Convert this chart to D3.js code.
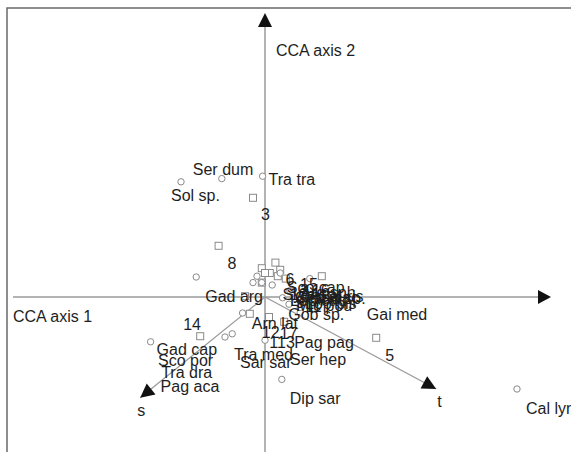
<!DOCTYPE html>
<html>
<head>
<meta charset="utf-8">
<script src="https://cdn.jsdelivr.net/npm/d3@7"></script>
<style>
body { margin: 0; background: #fff; }
text { font-family: "Liberation Sans", Arial, sans-serif; font-size: 16px; fill: #1e1e1e; }
</style>
</head>
<body>
<div id="chart-area"></div>
<script>
// species scores (CCA axis 1, axis 2)
var speciesNames = ["Sol sp.", "Ser dum", "Tra tra", "Cal lyr", "Dip sar", "Gad cap", "Sco por", "Tra dra", "Pag aca",
  "Tra med", "Gad arg", "Sar sar", "Ser hep", "Pag pag", "Gai med", "Cal ris", "Gob sp.", "Arn lat",
  "Sco cap", "Sym sp.", "Lep cau", "Mic pou", "Arg sph", "Cep mac", "Lop pis", "Gad sp."];
var speciesX = [-1.05, -0.54, -0.03, 3.15, 0.21, -1.43, -0.50, -0.41, -0.28,
  0.00, -0.86, -0.10, -0.15, 0.44, 0.56, 0.09, 0.19, -0.04,
  0.31, 0.22, 0.30, 0.44, 0.38, 0.50, 0.55, 0.62];
var speciesY = [1.44, 1.48, 1.51, -1.15, -1.03, -0.56, -0.50, -0.46, -0.20,
  -0.54, 0.25, 0.26, 0.18, -0.19, 0.23, 0.15, 0.30, 0.18,
  0.08, -0.01, -0.09, -0.13, -0.02, -0.06, -0.12, -0.05];

// sample scores
var sampleIds = ["1", "2", "3", "4", "5", "6", "7", "8", "9", "10", "11", "12", "13", "14", "15", "16", "17"];
var sampleX = [0.24, 0.19, -0.15, 0.06, 1.39, 0.13, 0.71, -0.58, 0.16, -0.04, -0.25, -0.19, 0.05, -0.81, 0.00, 0.26, -0.04];
var sampleY = [-0.31, 0.34, 1.24, 0.30, -0.51, 0.43, 0.26, 0.64, 0.26, 0.36, 0.01, -0.21, -0.25, -0.49, 0.30, 0.23, 0.18];

// environmental variables
var envNames = ["s", "t"];
var envX = [-1.56, 2.14];
var envY = [-1.26, -1.15];

// label placement (pixels from the symbol)
var speciesLabelShift = [[-10, 19], [-29, -4], [6, 9], [9, 25], [8, 25], [6, 13], [-67, 29], [-71, 44], [-82, 79],
  [-31, 20], [9, 25], [-17, 92], [37, 82], [-6, 36], [57, 41], [46, 17], [8, 47], [-10, 46],
  [-3, 2], [0, 2], [1, 2], [-4, 4], [5, -1], [-10, 1], [-4, 2], [-5, 3]];
var sampleLabelShift = [[-15, 26], [20, 26], [8, 22], [40, 27], [9, 23], [10, 22], [-4, 30], [9, 23], [18, 32],
  [28, 32], [60, 16], [12, 24], [8, 31], [-17, -6], [35, 17], [26, 17], [18, 56]];
var envLabelShift = [[-3, 18], [1, 18]];

var width = 571, height = 452;

var svg = d3.select("#chart-area").append("svg")
  .attr("width", width)
  .attr("height", height);

var x = d3.scaleLinear().domain([0, 1]).range([265, 345]);
var y = d3.scaleLinear().domain([0, 1]).range([297, 217]);

// frame (clipped at right and bottom)
svg.append("path")
  .attr("d", "M7,452V8H571")
  .attr("fill", "none")
  .attr("stroke", "#6a6a6a")
  .attr("stroke-width", 1.5);

var axisColor = "#9a9a9a";

// CCA axes
svg.append("line")
  .attr("x1", 13).attr("y1", y(0))
  .attr("x2", 540).attr("y2", y(0))
  .attr("stroke", axisColor).attr("stroke-width", 1.5);
svg.append("line")
  .attr("x1", x(0)).attr("y1", height)
  .attr("x2", x(0)).attr("y2", 25)
  .attr("stroke", axisColor).attr("stroke-width", 1.5);

function head(tx, ty, ang, len, half) {
  var bx = tx - len * Math.cos(ang), by = ty - len * Math.sin(ang);
  var px = -Math.sin(ang) * half, py = Math.cos(ang) * half;
  return "M" + tx + "," + ty + "L" + (bx + px) + "," + (by + py) + "L" + (bx - px) + "," + (by - py) + "Z";
}

svg.append("path").attr("d", head(551, y(0), 0, 13, 7)).attr("fill", "#111");
svg.append("path").attr("d", head(x(0), 13, -Math.PI / 2, 14, 7)).attr("fill", "#111");

svg.append("text").attr("x", 13).attr("y", 322).text("CCA axis  1");
svg.append("text").attr("x", 276).attr("y", 56).text("CCA axis  2");

// environmental arrows
envNames.forEach(function(n, i) {
  var tx = x(envX[i]), ty = y(envY[i]);
  var ang = Math.atan2(ty - y(0), tx - x(0));
  svg.append("line")
    .attr("x1", x(0)).attr("y1", y(0))
    .attr("x2", tx).attr("y2", ty)
    .attr("stroke", axisColor).attr("stroke-width", 1.3);
  svg.append("path").attr("d", head(tx, ty, ang, 14, 7)).attr("fill", "#111");
  svg.append("text")
    .attr("x", tx + envLabelShift[i][0])
    .attr("y", ty + envLabelShift[i][1])
    .text(n);
});

// samples
svg.selectAll("rect.sample")
  .data(sampleIds)
  .enter()
  .append("rect")
  .attr("class", "sample")
  .attr("x", function(d, i) { return x(sampleX[i]) - 3.5; })
  .attr("y", function(d, i) { return y(sampleY[i]) - 3.5; })
  .attr("width", 7)
  .attr("height", 7)
  .attr("fill", "#fff")
  .attr("stroke", "#8a8a8a")
  .attr("stroke-width", 1);

// species
svg.selectAll("circle.sp")
  .data(speciesNames)
  .enter()
  .append("circle")
  .attr("class", "sp")
  .attr("cx", function(d, i) { return x(speciesX[i]); })
  .attr("cy", function(d, i) { return y(speciesY[i]); })
  .attr("r", 3.2)
  .attr("fill", "#fff")
  .attr("stroke", "#8a8a8a")
  .attr("stroke-width", 1);

svg.selectAll("text.slab")
  .data(sampleIds)
  .enter()
  .append("text")
  .attr("class", "slab")
  .attr("x", function(d, i) { return x(sampleX[i]) + sampleLabelShift[i][0]; })
  .attr("y", function(d, i) { return y(sampleY[i]) + sampleLabelShift[i][1]; })
  .text(function(d) { return d; });

svg.selectAll("text.splab")
  .data(speciesNames)
  .enter()
  .append("text")
  .attr("class", "splab")
  .attr("x", function(d, i) { return x(speciesX[i]) + speciesLabelShift[i][0]; })
  .attr("y", function(d, i) { return y(speciesY[i]) + speciesLabelShift[i][1]; })
  .text(function(d) { return d; });
</script>
</body>
</html>
